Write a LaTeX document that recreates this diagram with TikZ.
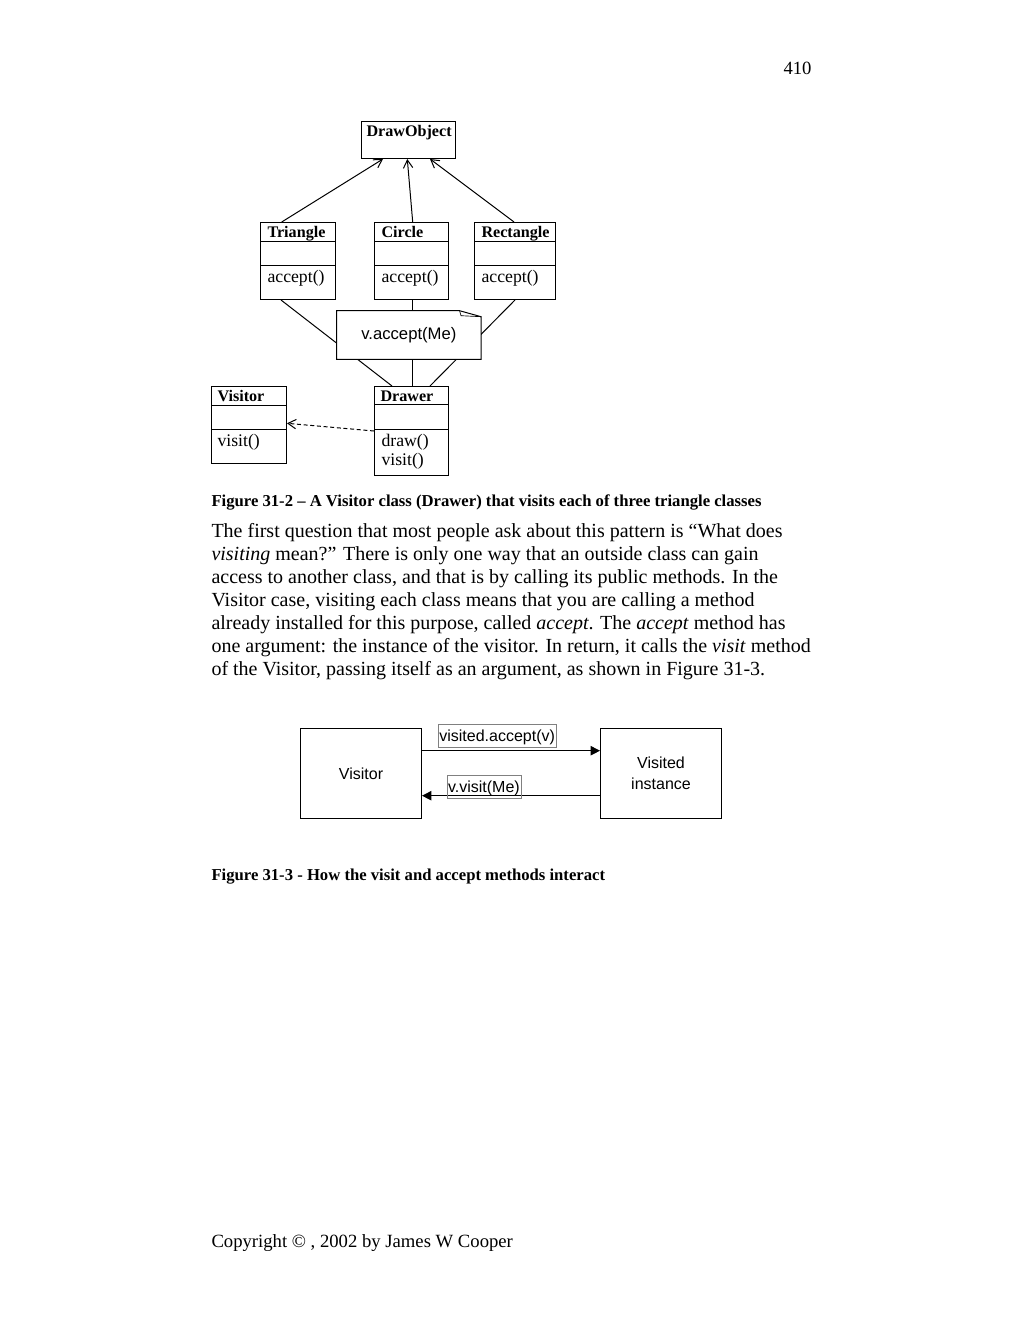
\documentclass[tikz,border=0pt]{standalone}
\usepackage{fontspec}
\setmainfont{Liberation Serif}
\setsansfont{Liberation Sans}
\usetikzlibrary{arrows.meta}
\tikzset{
  classbox/.style={draw, inner sep=0, anchor=north west},
  classname/.style={font=\fontsize{12.1}{12}\selectfont\bfseries, inner sep=0, anchor=base west},
  method/.style={font=\fontsize{13.3}{14.25}\selectfont, inner sep=0, anchor=base west, align=left},
  inherit/.style={-{Straight Barb[length=6pt,width=7pt]}},
  depend/.style={-{Straight Barb[length=6pt,width=7pt]}, dash pattern=on 3pt off 2pt},
  notebox/.style={fill=white, inner sep=0, minimum width=107.5pt, minimum height=35.7pt,
    anchor=north west, font=\sffamily\fontsize{12.5}{12.5}\selectfont},
  plainbox/.style={draw, inner sep=0, anchor=north west, minimum width=90.75pt,
    minimum height=67.5pt, align=center, font=\sffamily\fontsize{12}{15.75}\selectfont},
  msg/.style={-{Triangle[length=7pt,width=7pt]}},
  msglabel/.style={draw=gray, line width=0.4pt, anchor=north west, inner xsep=0.8pt,
    inner ysep=0, text height=12.9pt, text depth=4.6pt, font=\sffamily\fontsize{12}{12}\selectfont},
  captext/.style={font=\fontsize{12.5}{14}\selectfont\bfseries, inner sep=0, anchor=base west},
  bodytext/.style={font=\fontsize{15}{17.25}\selectfont, inner sep=0, anchor=base west, align=left},
  pagetext/.style={font=\fontsize{14}{16}\selectfont, inner sep=0}
}

\begin{document}
\begin{tikzpicture}[x=0.75pt, y=-0.75pt, line width=0.75pt]
  \useasboundingbox (0,0) rectangle (1023,1324);

  \node[pagetext, anchor=base east] (pageno) at (812,74) {410};

  % Figure 31-2
  \node[classbox, minimum width=70.5pt, minimum height=27.75pt] (drawobj) at (361,121) {};
  \node[classname] (drawobj-n) at ([shift={(5,15)}]drawobj.north west) {DrawObject};

  \node[classbox, minimum width=56.25pt, minimum height=57.75pt] (tri) at (260,222) {};
  \node[classbox, minimum width=55.5pt, minimum height=57.75pt] (circ) at (374,222) {};
  \node[classbox, minimum width=60.75pt, minimum height=57.75pt] (rect) at (474,222) {};
  \foreach \c/\n in {tri/Triangle, circ/Circle, rect/Rectangle} {
    \draw ([shift={(0,19)}]\c.north west) -- ([shift={(0,19)}]\c.north east);
    \draw ([shift={(0,43.5)}]\c.north west) -- ([shift={(0,43.5)}]\c.north east);
    \node[classname] (\c-n) at ([shift={(7,15)}]\c.north west) {\n};
    \node[method] (\c-m) at ([shift={(7,60.5)}]\c.north west) {accept()};
  }

  \draw[inherit] ([shift={(21.7,0)}]tri.north west) -- ([shift={(22,0)}]drawobj.south west);
  \draw[inherit] ([shift={(38.7,0)}]circ.north west) -- ([shift={(46.3,0)}]drawobj.south west);
  \draw[inherit] ([shift={(40,0)}]rect.north west) -- ([shift={(69,0)}]drawobj.south west);

  \node[classbox, minimum width=56.25pt, minimum height=57.75pt] (visitor) at (211,386) {};
  \draw ([shift={(0,19)}]visitor.north west) -- ([shift={(0,19)}]visitor.north east);
  \draw ([shift={(0,43)}]visitor.north west) -- ([shift={(0,43)}]visitor.north east);
  \node[classname] (visitor-n) at ([shift={(6,15)}]visitor.north west) {Visitor};
  \node[method] (visitor-m) at ([shift={(6,60.5)}]visitor.north west) {visit()};

  \node[classbox, minimum width=55.5pt, minimum height=66.75pt] (drawer) at (374,386) {};
  \draw ([shift={(0,18.5)}]drawer.north west) -- ([shift={(0,18.5)}]drawer.north east);
  \draw ([shift={(0,43)}]drawer.north west) -- ([shift={(0,43)}]drawer.north east);
  \node[classname] (drawer-n) at ([shift={(6,15)}]drawer.north west) {Drawer};
  \node[method] (drawer-m) at ([shift={(7,79.5)}]drawer.north west) {draw()\\visit()};

  \draw ([shift={(21,0)}]tri.south west) -- ([shift={(18,0)}]drawer.north west);
  \draw ([shift={(38.7,0)}]circ.south west) -- ([shift={(38.7,0)}]drawer.north west);
  \draw ([shift={(41,0)}]rect.south west) -- ([shift={(56,0)}]drawer.north west);

  \node[notebox] (note) at (336.7,310.7) {v.accept(Me)};
  \draw (note.north west) -- ([shift={(-21.5,0)}]note.north east)
    -- ([shift={(0,6)}]note.north east) -- (note.south east) -- (note.south west) -- cycle;
  \draw[line width=0.5pt] ([shift={(-21.5,0)}]note.north east) -- ++(1.5,5)
    -- ([shift={(0,6)}]note.north east);

  \draw[depend] ([shift={(0,45)}]drawer.north west) -- ([shift={(0,37.3)}]visitor.north east);

  \node[captext] (cap1) at (211,506.3)
    {Figure 31-2 – A Visitor class (Drawer) that visits each of three triangle classes};

  \node[bodytext] (para) at (211,675.6) {The first question that most people ask about this pattern is “What does\\
    \textit{visiting} mean?” There is only one way that an outside class can gain\\
    access to another class, and that is by calling its public methods. In the\\
    Visitor case, visiting each class means that you are calling a method\\
    already installed for this purpose, called \textit{accept}. The \textit{accept} method has\\
    one argument: the instance of the visitor. In return, it calls the \textit{visit} method\\
    of the Visitor, passing itself as an argument, as shown in Figure 31-3.};

  % Figure 31-3
  \node[plainbox] (visbox) at (300,728) {Visitor};
  \node[plainbox] (visited) at (600,728) {Visited\\instance};

  \draw[msg] ([shift={(0,22.7)}]visbox.north east) -- ([shift={(0,22.7)}]visited.north west);
  \draw[msg] ([shift={(0,67.7)}]visited.north west) -- ([shift={(0,67.7)}]visbox.north east);
  \node[msglabel] (acc) at (438,724) {visited.accept(v)};
  \node[msglabel] (vis) at (446.7,775) {v.visit(Me)};

  \node[captext] (cap2) at (211,880.7) {Figure 31-3 - How the visit and accept methods interact};

  \node[pagetext, anchor=base west] (copy) at (211,1247.3) {Copyright © , 2002 by James W Cooper};
\end{tikzpicture}
\end{document}
